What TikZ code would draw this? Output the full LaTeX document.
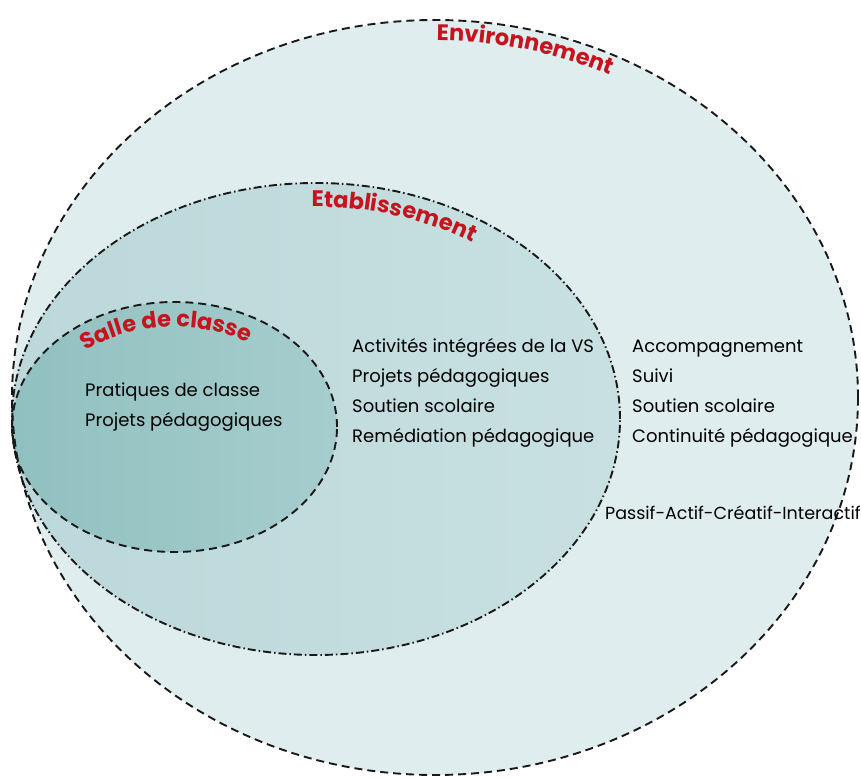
\documentclass[tikz,border=0pt]{standalone}
\usepackage{fontspec}
\setmainfont{Poppins}
\usetikzlibrary{decorations.text}
\definecolor{envfill}{RGB}{224, 237, 238}
\definecolor{etabdark}{RGB}{188, 216, 218}
\definecolor{etablight}{RGB}{200, 224, 226}
\definecolor{salledark}{RGB}{145, 192, 192}
\definecolor{sallelight}{RGB}{166, 205, 205}
\definecolor{labelred}{RGB}{197, 20, 30}
\newcommand{\labelfont}{\fontsize{22.5}{22.5}\selectfont\bfseries\color{labelred}}

\begin{document}
\begin{tikzpicture}[x=1pt, y=1pt,
    every node/.style={font=\fontsize{18}{20}\selectfont, anchor=base west, inner sep=0pt},
    border/.style={black!90, line width=1.9pt, dash pattern=on 8pt off 5pt},
    borderdot/.style={black!90, line width=1.9pt, dash pattern=on 8pt off 3pt on 1.5pt off 3pt}]
\useasboundingbox (0,0) rectangle (861,778);

% Fills
\fill[envfill] (435,380.5) ellipse [x radius=423, y radius=377.5];
\shade[left color=etabdark, right color=etablight] (316,359) ellipse [x radius=304, y radius=236];
\shade[left color=salledark, right color=sallelight] (174.5,351) ellipse [x radius=162.5, y radius=125];

% Borders
\draw[border] (435,380.5) ellipse [x radius=423, y radius=377.5];
\draw[borderdot] (316,359) ellipse [x radius=304, y radius=236];
\draw[border] (174.5,351) ellipse [x radius=162.5, y radius=125];

% Curved titles
\path[decorate, decoration={text along path, text align=center, text={|\labelfont|Environnement}}]
    (435,380.5) ++(97:406 and 357) arc[start angle=97, end angle=57, x radius=406, y radius=357];
\path[decorate, decoration={text along path, text align=center, text={|\labelfont|Etablissement}}]
    (316,359) ++(94:282 and 212) arc[start angle=94, end angle=53, x radius=282, y radius=212];
\path[decorate, decoration={text along path, text align=center, text={|\labelfont|Salle de classe}}]
    (174.5,351) ++(134:137 and 100) arc[start angle=134, end angle=54, x radius=137, y radius=100];

% Texts
\foreach \txt [count=\i] in {Pratiques de classe, Projets pédagogiques}
    \node (salle\i) at (85,{381-30*(\i-1)}) {\txt};
\foreach \txt [count=\i] in {Activités intégrées de la VS, Projets pédagogiques, Soutien scolaire, Remédiation pédagogique}
    \node (etab\i) at (352,{425-29.7*(\i-1)}) {\txt};
\foreach \txt [count=\i] in {Accompagnement, Suivi, Soutien scolaire, Continuité pédagogique}
    \node (env\i) at (632,{425-29.7*(\i-1)}) {\txt};
\node[font=\fontsize{17.5}{20}\selectfont] (passif) at (605,258) {Passif-Actif-Créatif-Interactif};
\end{tikzpicture}
\end{document}
